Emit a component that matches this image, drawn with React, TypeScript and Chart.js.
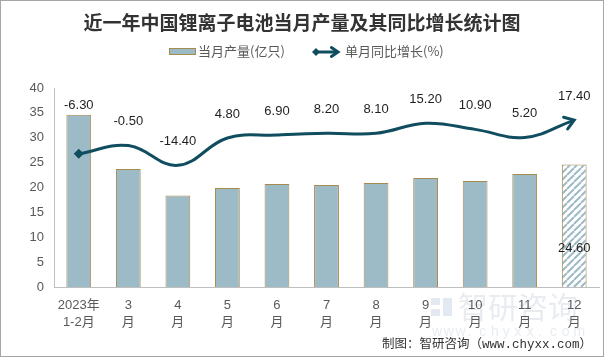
import React, { useEffect, useRef } from "react";
import { Chart, registerables } from "chart.js";

Chart.register(...registerables);

const TITLE = "近一年中国锂离子电池当月产量及其同比增长统计图";
const BAR_NAME = "当月产量(亿只)";
const LINE_NAME = "单月同比增长(%)";
const FOOTER = "制图：智研咨询（www.chyxx.com）";

const categories: string[][] = [
  ["2023年", "1-2月"],
  ["3", "月"],
  ["4", "月"],
  ["5", "月"],
  ["6", "月"],
  ["7", "月"],
  ["8", "月"],
  ["9", "月"],
  ["10", "月"],
  ["11", "月"],
  ["12", "月"],
];
const production = [34.6, 23.7, 18.4, 19.9, 20.7, 20.5, 20.9, 21.9, 21.3, 22.7, 24.6];
const growth = [-6.3, -0.5, -14.4, 4.8, 6.9, 8.2, 8.1, 15.2, 10.9, 5.2, 17.4];
const yTicks = [0, 5, 10, 15, 20, 25, 30, 35, 40];

const BAR_FILL = "#9dbac7";
const BAR_BORDER = "#a68b4f";
const LINE_COLOR = "#0f4d5f";
const TEXT = "#595959";
const LABEL = "#1f1f1f";
const FONT = "'Liberation Sans', 'Noto Sans CJK SC', sans-serif";
const CJK = "'Noto Sans CJK SC', sans-serif";

function drawArrowHead(ctx: CanvasRenderingContext2D, x: number, y: number, ang: number, len: number, w: number) {
  ctx.save();
  ctx.strokeStyle = LINE_COLOR;
  ctx.lineWidth = w;
  ctx.lineCap = "round";
  ctx.lineJoin = "miter";
  ctx.beginPath();
  ctx.moveTo(x - len * Math.cos(ang - 0.6), y - len * Math.sin(ang - 0.6));
  ctx.lineTo(x, y);
  ctx.lineTo(x - len * Math.cos(ang + 0.6), y - len * Math.sin(ang + 0.6));
  ctx.stroke();
  ctx.restore();
}

function drawDiamond(ctx: CanvasRenderingContext2D, x: number, y: number, r: number) {
  ctx.save();
  ctx.fillStyle = LINE_COLOR;
  ctx.beginPath();
  ctx.moveTo(x - r, y);
  ctx.lineTo(x, y - r);
  ctx.lineTo(x + r, y);
  ctx.lineTo(x, y + r);
  ctx.closePath();
  ctx.fill();
  ctx.restore();
}

const decor = {
  id: "decor",
  beforeDraw(chart: any) {
    const ctx: CanvasRenderingContext2D = chart.ctx;
    ctx.save();
    ctx.fillStyle = "#fff";
    ctx.fillRect(0, 0, chart.width, chart.height);
    // watermark
    ctx.globalAlpha = 0.4;
    ctx.fillStyle = "#b9c8da";
    ctx.fillRect(431, 298, 9, 7);
    ctx.fillRect(431, 309, 9, 7);
    ctx.fillRect(443, 298, 9, 18);
    ctx.fillStyle = "#c5cfdc";
    ctx.font = `30px ${CJK}`;
    ctx.textAlign = "left";
    ctx.textBaseline = "middle";
    ctx.fillText("智研咨询", 458, 307);
    ctx.font = `14px ${FONT}`;
    const w = "www.chyxx.com".split("");
    w.forEach((ch, i) => ctx.fillText(ch, 432 + i * 11.8, 332));
    ctx.restore();
  },
  afterDraw(chart: any) {
    const ctx: CanvasRenderingContext2D = chart.ctx;
    ctx.save();
    // title
    ctx.fillStyle = "#333333";
    ctx.font = `bold 19px ${CJK}`;
    ctx.textAlign = "center";
    ctx.textBaseline = "middle";
    ctx.fillText(TITLE, 302, 23);

    // legend
    ctx.fillStyle = BAR_FILL;
    ctx.fillRect(169.5, 48.5, 26, 6);
    ctx.strokeStyle = BAR_BORDER;
    ctx.lineWidth = 1;
    ctx.strokeRect(169.5, 48.5, 26, 6);
    ctx.fillStyle = TEXT;
    ctx.font = `13px ${CJK}`;
    ctx.textAlign = "left";
    ctx.fillText(BAR_NAME, 198, 51);

    ctx.strokeStyle = LINE_COLOR;
    ctx.lineWidth = 3;
    ctx.beginPath();
    ctx.moveTo(316, 52);
    ctx.lineTo(337, 52);
    ctx.stroke();
    drawDiamond(ctx, 316, 52, 4);
    drawArrowHead(ctx, 338, 52, 0, 8, 3);
    ctx.fillStyle = TEXT;
    ctx.fillText(LINE_NAME, 345, 51);

    // line labels (kept above the point and above the bar top)
    const lineMeta = chart.getDatasetMeta(0);
    const barMeta = chart.getDatasetMeta(1);
    ctx.fillStyle = LABEL;
    ctx.font = `13px ${FONT}`;
    ctx.textAlign = "center";
    lineMeta.data.forEach((pt: any, i: number) => {
      const barTop = barMeta.data[i].y;
      const ly = Math.min(pt.y - 24, barTop - 9);
      ctx.fillText(growth[i].toFixed(2), pt.x, ly);
    });

    // arrowhead at end of line
    const n = lineMeta.data.length;
    const last = lineMeta.data[n - 1];
    const ang = Math.atan2(last.y - last.cp1y, last.x - last.cp1x);
    drawArrowHead(ctx, last.x, last.y, ang, 11, 3);

    // last bar label
    const lb = barMeta.data[barMeta.data.length - 1];
    ctx.fillStyle = LABEL;
    ctx.fillText(production[production.length - 1].toFixed(2), lb.x, lb.base - 39);

    // footer
    ctx.fillStyle = "#333333";
    ctx.font = `12.5px 'Liberation Mono', ${CJK}`;
    ctx.textAlign = "right";
    ctx.fillText(FOOTER, 592, 345);

    // frame
    ctx.strokeStyle = "#a6a6a6";
    ctx.lineWidth = 1;
    ctx.strokeRect(0.5, 0.5, chart.width - 1, chart.height - 1);
    ctx.restore();
  },
};

export default function App() {
  const ref = useRef<HTMLCanvasElement>(null);

  useEffect(() => {
    document.body.style.margin = "0";
    const canvas = ref.current!;
    const ctx = canvas.getContext("2d")!;
    const tile = document.createElement("canvas");
    const s = 7;
    tile.width = s;
    tile.height = s;
    const g = tile.getContext("2d")!;
    g.fillStyle = "#ffffff";
    g.fillRect(0, 0, s, s);
    g.strokeStyle = BAR_FILL;
    g.lineWidth = 2;
    g.beginPath();
    for (let k = -1; k <= 1; k++) {
      g.moveTo(k * s, s);
      g.lineTo(k * s + s, 0);
    }
    g.stroke();
    const hatch = ctx.createPattern(tile, "repeat");
    const lastIdx = production.length - 1;

    const chart = new Chart(canvas, {
      type: "bar",
      data: {
        labels: categories,
        datasets: [
          {
            type: "line",
            label: LINE_NAME,
            data: growth,
            yAxisID: "y1",
            borderColor: LINE_COLOR,
            backgroundColor: LINE_COLOR,
            borderWidth: 3,
            tension: 0.4,
            borderCapStyle: "butt",
            pointStyle: "rectRot",
            pointRadius: (c: any) => (c.dataIndex === 0 ? 5 : 0),
            pointBorderWidth: 0,
            order: 0,
          } as any,
          {
            type: "bar",
            label: BAR_NAME,
            data: production,
            yAxisID: "y",
            backgroundColor: (c: any) => (c.dataIndex === lastIdx ? hatch : BAR_FILL),
            borderColor: BAR_BORDER,
            borderWidth: 1,
            barPercentage: 0.5,
            categoryPercentage: 1,
            order: 1,
          } as any,
        ],
      },
      options: {
        animation: false,
        responsive: true,
        maintainAspectRatio: false,
        layout: { padding: { top: 88, left: 0, right: 0, bottom: 0 } },
        plugins: {
          legend: { display: false },
          title: { display: false },
          tooltip: { enabled: false },
        },
        scales: {
          x: {
            grid: { display: false, drawTicks: false },
            border: { display: true, color: "#bfbfbf" },
            ticks: { color: TEXT, font: { size: 13, family: FONT, lineHeight: 1.3 } as any, padding: 10, maxRotation: 0, autoSkip: false },
            afterFit: (sc: any) => {
              sc.height = 70;
            },
          },
          y: {
            position: "left",
            min: 0,
            max: 40,
            afterBuildTicks: (sc: any) => {
              sc.ticks = yTicks.map((v) => ({ value: v }));
            },
            grid: { display: false, drawTicks: false },
            border: { display: true, color: "#bfbfbf" },
            ticks: { color: TEXT, font: { size: 13, family: FONT }, padding: 10 },
            afterFit: (sc: any) => {
              sc.width = 54;
            },
          },
          y1: {
            display: false,
            position: "right",
            min: -100,
            max: 40,
          },
        },
      },
      plugins: [decor],
    });
    return () => chart.destroy();
  }, []);

  return (
    <div style={{ position: "relative", width: 604, height: 357 }}>
      <canvas ref={ref} />
    </div>
  );
}
